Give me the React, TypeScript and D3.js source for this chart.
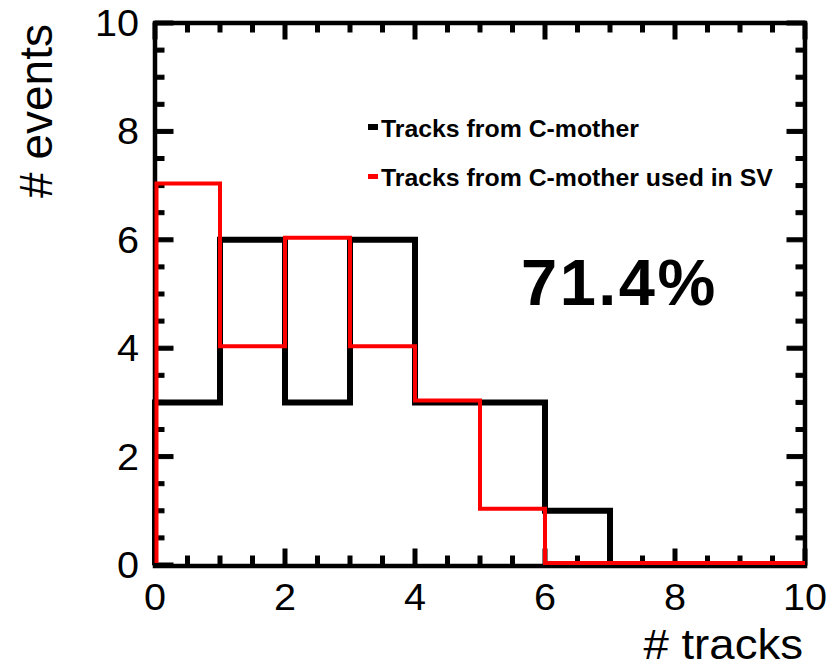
import React from "react";
import * as d3 from "d3";

const binEdges = [0, 1, 2, 3, 4, 5, 6, 7, 8, 9, 10];
const blackCounts = [3, 6, 3, 6, 3, 3, 1, 0, 0, 0];
const redCounts = [7, 4, 6, 4, 3, 1, 0, 0, 0, 0];
const xTicks = [0, 2, 4, 6, 8, 10];
const yTicks = [0, 2, 4, 6, 8, 10];
const legendLabels = ["Tracks from C-mother", "Tracks from C-mother used in SV"];
const efficiencyLabel = "71.4%";

const W = 828;
const H = 670;
const L = 155, R = 805, T = 23, B = 565;

export default function App() {
  const x = d3.scaleLinear().domain([0, 10]).range([L, R]);
  const y = d3.scaleLinear().domain([0, 10]).range([B, T]);

  const stepPath = (counts: number[], xOff: number, yOff: number) => {
    const pts: [number, number][] = [[0, 0]];
    counts.forEach((c, i) => pts.push([binEdges[i], c]));
    pts.push([binEdges[binEdges.length - 1], counts[counts.length - 1]]);
    return d3
      .line<[number, number]>()
      .x((d) => x(d[0]) + (d[0] === 0 ? xOff : 0))
      .y((d) => y(d[1]) + yOff)
      .curve(d3.curveStepAfter)(pts) as string;
  };

  const font = "'Liberation Sans', Arial, Helvetica, sans-serif";
  const minorVals = x.ticks(20);
  const isMajor = (v: number) => Math.abs(v / 2 - Math.round(v / 2)) < 1e-6;
  const majLen = 16, minLen = 9;

  const tickRects: { x: number; y: number; w: number; h: number; k: string }[] = [];
  minorVals.forEach((v, i) => {
    const len = isMajor(v) ? majLen : minLen;
    const xv = x(v);
    tickRects.push({ x: xv - 2, y: B - len, w: 4, h: len, k: "b" + i });
    tickRects.push({ x: xv - 2, y: T, w: 4, h: len, k: "t" + i });
    const ylen = isMajor(v) ? majLen + 2 : minLen;
    const yv = y(v);
    tickRects.push({ x: L, y: yv - 2, w: ylen, h: 4, k: "l" + i });
    tickRects.push({ x: R - ylen, y: yv - 2, w: ylen, h: 4, k: "r" + i });
  });

  return (
    <svg
      width={W}
      height={H}
      style={{ position: "absolute", left: 0, top: 0, background: "#fff" }}
    >
      <rect x={0} y={0} width={W} height={H} fill="#fff" />
      {/* frame */}
      <rect x={L} y={T} width={R - L} height={B - T + 1} fill="none" stroke="#000" strokeWidth={4.5} />

      {/* ticks */}
      <g fill="#000" stroke="#000" strokeWidth={1}>
        {tickRects.map((r) => (
          <rect key={r.k} x={r.x} y={r.y} width={r.w} height={r.h} />
        ))}
      </g>

      {/* histograms */}
      <path d={stepPath(blackCounts, 0, 0)} fill="none" stroke="#000" strokeWidth={6} strokeLinejoin="miter" />
      <path d={stepPath(redCounts, 1.5, -2)} fill="none" stroke="#ff0000" strokeWidth={4} strokeLinejoin="miter" />

      {/* tick labels */}
      {xTicks.map((v) => (
        <text
          key={"xl" + v}
          transform={`translate(${x(v)},610) scale(1.07,1)`}
          textAnchor="middle"
          fontFamily={font}
          fontSize={37}
          fill="#000"
        >
          {v}
        </text>
      ))}
      {yTicks.map((v) => (
        <text
          key={"yl" + v}
          transform={`translate(139,${y(v) + 13}) scale(1.07,1)`}
          textAnchor="end"
          fontFamily={font}
          fontSize={37}
          fill="#000"
        >
          {v}
        </text>
      ))}

      {/* axis titles */}
      <text
        transform={`translate(803,659) scale(1.06,1)`}
        textAnchor="end"
        fontFamily={font}
        fontSize={43}
        fill="#000"
      >
        # tracks
      </text>
      <text
        transform={`translate(52,111) rotate(-90)`}
        textAnchor="middle"
        fontFamily={font}
        fontSize={46}
        fill="#000"
      >
        # events
      </text>

      {/* legend */}
      <rect x={368} y={124} width={10} height={6} fill="#000" />
      <text
        transform={`translate(381,136.5) scale(1.08,1)`}
        fontFamily={font}
        fontWeight="bold"
        fontSize={23}
        fill="#000"
      >
        {legendLabels[0]}
      </text>
      <rect x={368} y={174} width={10} height={5} fill="#ff0000" />
      <text
        transform={`translate(381,185.5) scale(1.08,1)`}
        fontFamily={font}
        fontWeight="bold"
        fontSize={23}
        fill="#000"
      >
        {legendLabels[1]}
      </text>

      {/* efficiency */}
      <text
        transform={`translate(521,305)`}
        fontFamily={font}
        fontWeight="bold"
        fontSize={65}
        letterSpacing={2.5}
        fill="#000"
      >
        {efficiencyLabel}
      </text>
    </svg>
  );
}
